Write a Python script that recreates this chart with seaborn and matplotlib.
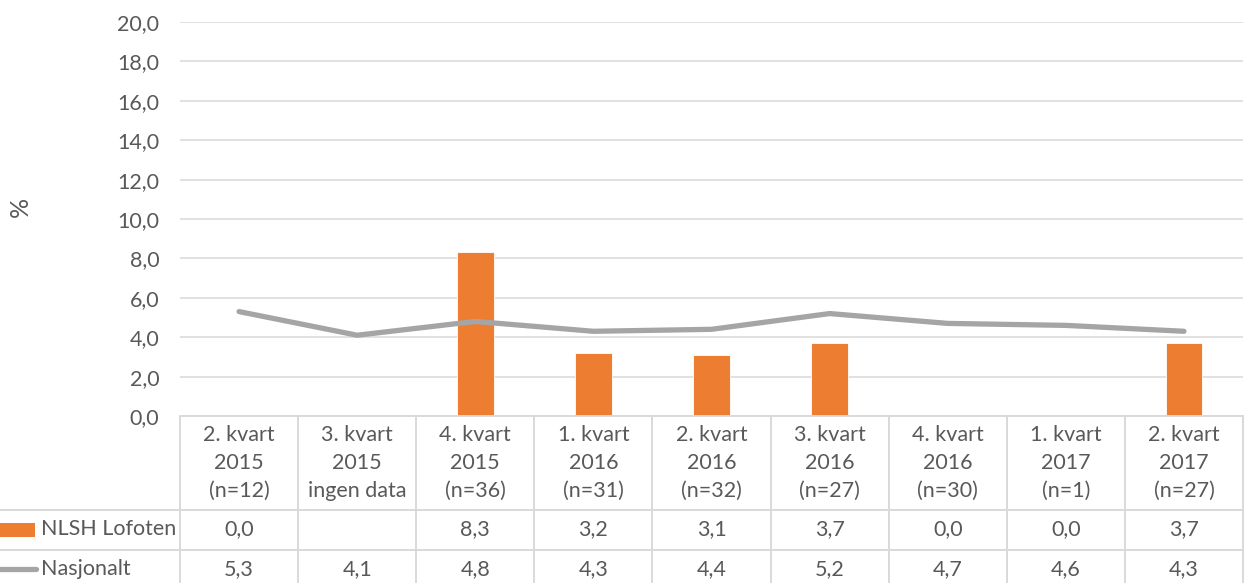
import numpy as np
import pandas as pd
import matplotlib
matplotlib.use("Agg")
import matplotlib.pyplot as plt
import matplotlib.transforms as mtransforms
from matplotlib.lines import Line2D
from matplotlib.patches import Rectangle
import seaborn as sns

# ---- data ----
quarters = ["2. kvart\n2015", "3. kvart\n2015", "4. kvart\n2015", "1. kvart\n2016",
            "2. kvart\n2016", "3. kvart\n2016", "4. kvart\n2016", "1. kvart\n2017",
            "2. kvart\n2017"]
counts = ["(n=12)", "ingen data", "(n=36)", "(n=31)", "(n=32)", "(n=27)", "(n=30)",
          "(n=1)", "(n=27)"]
nlsh_lofoten = [0.0, np.nan, 8.3, 3.2, 3.1, 3.7, 0.0, 0.0, 3.7]
nasjonalt = [5.3, 4.1, 4.8, 4.3, 4.4, 5.2, 4.7, 4.6, 4.3]
series_names = ["NLSH Lofoten", "Nasjonalt"]
y_ticks = np.arange(0, 21, 2)

ORANGE = "#ED7D31"
GREY = "#A5A5A5"
GRID = "#D9D9D9"
TEXT = "#595959"

sns.set_style("white")
plt.rcParams["font.family"] = ["Lato", "DejaVu Sans"]
FS = 15.5

W, H = 1245, 583
fig = plt.figure(figsize=(W / 100, H / 100), dpi=100)
ax_left, ax_right, ax_top, ax_bottom = 180, 1243, 22, 416
ax = fig.add_axes([ax_left / W, 1 - ax_bottom / H, (ax_right - ax_left) / W,
                   (ax_bottom - ax_top) / H])

n = len(quarters)
labels = [q + "\n" + c for q, c in zip(quarters, counts)]
df = pd.DataFrame({"kvartal": labels, "nlsh": nlsh_lofoten, "nasj": nasjonalt,
                   "pos": np.arange(n)})

sns.barplot(data=df.dropna(subset=["nlsh"]), x="kvartal", y="nlsh", order=labels,
            color=ORANGE, saturation=1, width=0.31, errorbar=None,
            edgecolor="white", linewidth=0.6, ax=ax, zorder=3)
sns.lineplot(data=df, x="pos", y="nasj", color=GREY, linewidth=3.8, ax=ax,
             zorder=4, solid_capstyle="round", solid_joinstyle="round")

ax.set_xlim(-0.5, n - 0.5)
ax.set_ylim(0, 20)
ax.set_yticks(y_ticks)
ax.set_yticklabels([f"{v:.1f}".replace(".", ",") for v in y_ticks],
                   fontsize=FS, color=TEXT)
ax.tick_params(axis="y", length=0, pad=15)
ax.set_xticks([])
ax.set_xlabel("")
ax.set_ylabel("")
ax.yaxis.grid(True, color=GRID, linewidth=1.1)
ax.set_axisbelow(True)
for s in ax.spines.values():
    s.set_visible(False)

fig.text(20 / W, 1 - 207 / H, "%", rotation=90, ha="center", va="center",
         fontsize=18, color=TEXT)

# ---- data table under the axes ----
def fy(py):
    return 1 - py / H

blend = mtransforms.blended_transform_factory(ax.transData, fig.transFigure)
row1, row2 = 510, 550
line_kw = dict(color=GRID, linewidth=1.4, zorder=1)

# horizontal borders
fig.add_artist(Line2D([ax_left / W, ax_right / W], [fy(ax_bottom)] * 2,
                      transform=fig.transFigure, **line_kw))
for py in (row1, row2):
    fig.add_artist(Line2D([0, ax_right / W], [fy(py)] * 2,
                          transform=fig.transFigure, **line_kw))
# vertical borders at category boundaries
for k in range(n + 1):
    fig.add_artist(Line2D([k - 0.5, k - 0.5], [fy(ax_bottom), 0],
                          transform=blend, **line_kw))

def fmt(v):
    return "" if np.isnan(v) else f"{v:.1f}".replace(".", ",")

for i in range(n):
    head_lines = quarters[i].split("\n") + [counts[i]]
    for j, txt in enumerate(head_lines):
        fig.text(i, fy(435 + 28 * j), txt, transform=blend, ha="center",
                 va="center", fontsize=FS, color=TEXT)
    fig.text(i, fy(529), fmt(nlsh_lofoten[i]), transform=blend, ha="center",
             va="center", fontsize=FS, color=TEXT)
    fig.text(i, fy(569), fmt(nasjonalt[i]), transform=blend, ha="center",
             va="center", fontsize=FS, color=TEXT)

# legend keys in the row headers
fig.add_artist(Rectangle((0, fy(537)), 35 / W, 14 / H, transform=fig.transFigure,
                         facecolor=ORANGE, edgecolor="none"))
fig.add_artist(Line2D([0, 36 / W], [fy(569)] * 2, transform=fig.transFigure,
                      color=GREY, linewidth=3.8, solid_capstyle="round"))
fig.text(41 / W, fy(529), series_names[0], ha="left", va="center", fontsize=FS,
         color=TEXT)
fig.text(41 / W, fy(569), series_names[1], ha="left", va="center", fontsize=FS,
         color=TEXT)

fig.savefig("out.png", dpi=100, facecolor="white")
